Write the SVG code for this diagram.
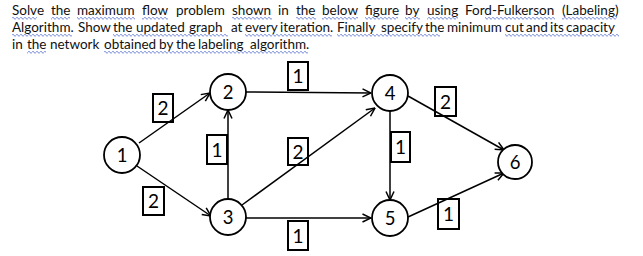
<svg xmlns="http://www.w3.org/2000/svg" width="643" height="256" viewBox="0 0 643 256">
<defs>
<style>
.t{font-family:Lato,"Open Sans","Liberation Sans",sans-serif;font-size:13.5px;fill:#111}
.n{fill:#fff;stroke:#000;stroke-width:1.8}
.nl{font-family:Lato,"Liberation Sans",sans-serif;font-size:18.5px;fill:#000;text-anchor:middle}
.b{fill:none;stroke:#000;stroke-width:2}
.bl{font-family:Lato,"Liberation Sans",sans-serif;font-size:19px;fill:#000;text-anchor:middle}
.e{stroke:#000;stroke-width:1.5;fill:none;marker-end:url(#ah)}
.sq{fill:url(#wave)}
</style>
<marker id="ah" viewBox="0 0 10 10" refX="9.5" refY="5" markerWidth="10" markerHeight="10" markerUnits="userSpaceOnUse" orient="auto">
<path d="M1,1 L9.5,5 L1,9" fill="none" stroke="#000" stroke-width="1.5"/>
</marker>
<pattern id="wave" x="0" y="16" width="4" height="17" patternUnits="userSpaceOnUse">
<path d="M0,2.3 Q1,0.3 2,2.3 T4,2.3" fill="none" stroke="#3f5fc8" stroke-width="0.9"/>
</pattern>
</defs>
<g id="squiggles">
<rect class="sq" x="12" y="16" width="25" height="4"/>
<rect class="sq" x="51" y="16" width="19" height="4"/>
<rect class="sq" x="77" y="16" width="58" height="4"/>
<rect class="sq" x="142" y="16" width="26" height="4"/>
<rect class="sq" x="232" y="16" width="40" height="4"/>
<rect class="sq" x="296" y="16" width="20" height="4"/>
<rect class="sq" x="322" y="16" width="36" height="4"/>
<rect class="sq" x="365" y="16" width="33" height="4"/>
<rect class="sq" x="405" y="16" width="15" height="4"/>
<rect class="sq" x="427" y="16" width="31" height="4"/>
<rect class="sq" x="485" y="16" width="70" height="4"/>
<rect class="sq" x="562" y="16" width="55" height="4"/>
<rect class="sq" x="12" y="33" width="60" height="4"/>
<rect class="sq" x="113" y="33" width="115" height="4"/>
<rect class="sq" x="245" y="33" width="87" height="4"/>
<rect class="sq" x="337" y="33" width="103" height="4"/>
<rect class="sq" x="505" y="33" width="114" height="4"/>
<rect class="sq" x="27" y="50" width="19" height="4"/>
<rect class="sq" x="104" y="50" width="204" height="4"/>
</g>
<g id="question">
<text class="t" y="15"><tspan x="12">Solve</tspan><tspan x="51">the</tspan><tspan x="77">maximum</tspan><tspan x="142">flow</tspan><tspan x="176">problem</tspan><tspan x="232">shown</tspan><tspan x="278">in</tspan><tspan x="296">the</tspan><tspan x="322">below</tspan><tspan x="365">figure</tspan><tspan x="405">by</tspan><tspan x="427">using</tspan><tspan x="465">Ford-Fulkerson</tspan><tspan x="562">(Labeling)</tspan></text>
<text class="t" y="32"><tspan x="12">Algorithm.</tspan><tspan x="78">Show</tspan><tspan x="113">the</tspan><tspan x="136">updated</tspan><tspan x="189">graph</tspan><tspan x="231">at</tspan><tspan x="245">every</tspan><tspan x="280">iteration.</tspan><tspan x="337">Finally</tspan><tspan x="381">specify</tspan><tspan x="425">the</tspan><tspan x="447">minimum</tspan><tspan x="505">cut</tspan><tspan x="526">and</tspan><tspan x="550">its</tspan><tspan x="566">capacity</tspan></text>
<text class="t" y="49"><tspan x="12">in</tspan><tspan x="27">the</tspan><tspan x="50">network</tspan><tspan x="104">obtained</tspan><tspan x="159">by</tspan><tspan x="176">the</tspan><tspan x="198">labeling</tspan><tspan x="250">algorithm.</tspan></text>
</g>
<g id="connectors">
<line class="e" x1="139" y1="143" x2="210" y2="93"/>
<line class="e" x1="137" y1="166" x2="211" y2="216"/>
<line class="e" x1="228" y1="199" x2="228" y2="110"/>
<line class="e" x1="246" y1="92" x2="371" y2="93"/>
<line class="e" x1="242" y1="205" x2="375" y2="108"/>
<line class="e" x1="246" y1="218" x2="371" y2="218"/>
<line class="e" x1="390" y1="111" x2="390" y2="200"/>
<line class="e" x1="408" y1="96" x2="504" y2="150"/>
<line class="e" x1="408" y1="217" x2="504" y2="173"/>
</g>
<g id="cap-1-2"><rect class="b" x="153" y="94" width="20" height="28"/><text class="bl" x="163" y="115">2</text></g>
<g id="cap-1-3"><rect class="b" x="143" y="187" width="21" height="28"/><text class="bl" x="153.5" y="208">2</text></g>
<g id="cap-3-2"><rect class="b" x="207" y="135" width="20" height="29"/><text class="bl" x="217" y="156.5">1</text></g>
<g id="cap-2-4"><rect class="b" x="288" y="62" width="20" height="28"/><text class="bl" x="298" y="83">1</text></g>
<g id="cap-3-4"><rect class="b" x="288" y="138" width="20" height="27"/><text class="bl" x="298" y="158.5">2</text></g>
<g id="cap-3-5"><rect class="b" x="288" y="221" width="20" height="29"/><text class="bl" x="298" y="242.5">1</text></g>
<g id="cap-4-5"><rect class="b" x="391" y="132" width="19" height="30"/><text class="bl" x="400.5" y="154">1</text></g>
<g id="cap-4-6"><rect class="b" x="435" y="87" width="21" height="29"/><text class="bl" x="445.5" y="108.5">2</text></g>
<g id="cap-5-6"><rect class="b" x="438" y="199" width="21" height="30"/><text class="bl" x="448.5" y="221">1</text></g>
<g id="node1"><circle class="n" cx="122" cy="155" r="18"/><text class="nl" x="122" y="161.5">1</text></g>
<g id="node2"><circle class="n" cx="228" cy="92" r="18"/><text class="nl" x="228" y="98.5">2</text></g>
<g id="node3"><circle class="n" cx="228" cy="217" r="18"/><text class="nl" x="228" y="223.5">3</text></g>
<g id="node4"><circle class="n" cx="390" cy="93" r="18"/><text class="nl" x="390" y="99.5">4</text></g>
<g id="node5"><circle class="n" cx="390" cy="218" r="18"/><text class="nl" x="390" y="224.5">5</text></g>
<g id="node6"><circle class="n" cx="515" cy="162" r="17"/><text class="nl" x="515" y="168.5">6</text></g>
</svg>
